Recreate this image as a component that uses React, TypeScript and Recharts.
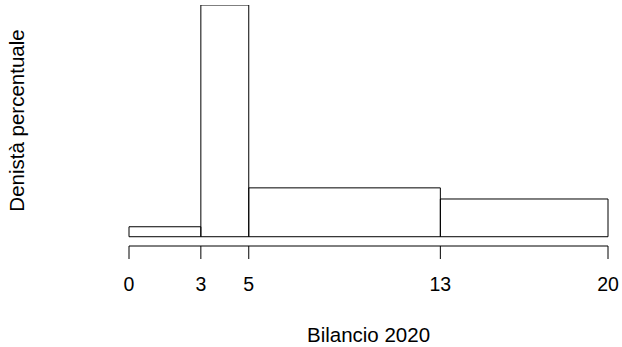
import { ComposedChart, XAxis, YAxis, Line, Label } from 'recharts'

// histogram with unequal class widths (density in % per unit)
const breaks = [0, 3, 5, 13, 20]
const densities = [0.87, 20.2, 4.26, 3.29]
const tickValues = [0, 3, 5, 13, 20]

// each bin as a closed outline: lo,0 -> lo,d -> hi,d -> hi,0 -> lo,0
const binOutlines = densities.map((d, i) => {
  const lo = breaks[i]
  const hi = breaks[i + 1]
  return [
    { x: lo, y: 0 },
    { x: lo, y: d },
    { x: hi, y: d },
    { x: hi, y: 0 },
    { x: lo, y: 0 },
  ]
})

const yMax = Math.max(...densities)
const font = '"Liberation Sans", Arial, Helvetica, sans-serif'

const YTitle = (props: any) => {
  const vb = props.viewBox || { x: 0, y: 0, height: 0 }
  const cx = vb.x + 24
  const cy = vb.y + vb.height / 2 - 5
  return (
    <text
      x={cx}
      y={cy}
      transform={`rotate(-90, ${cx}, ${cy})`}
      textAnchor="middle"
      fill="#000"
      fontSize={20.5}
      fontFamily={font}
    >
      Denistà percentuale
    </text>
  )
}

export default function App() {
  return (
    <div style={{ position: 'absolute', left: 0, top: 0, background: '#fff', fontFamily: font }}>
      <ComposedChart width={622} height={347} margin={{ top: 5, right: 14, left: 0, bottom: 0 }}>
        <XAxis
          dataKey="x"
          type="number"
          domain={[0, 20]}
          ticks={tickValues}
          interval={0}
          allowDuplicatedCategory
          height={101}
          tickSize={13}
          tickMargin={18}
          stroke="#000"
          axisLine={{ stroke: '#000', strokeWidth: 1 }}
          tickLine={{ stroke: '#000', strokeWidth: 1 }}
          tick={{ fill: '#000', fontSize: 19.5, fontFamily: font }}
          label={{
            value: 'Bilancio 2020',
            position: 'insideBottom',
            offset: 5,
            fill: '#000',
            fontSize: 20.5,
            fontFamily: font,
          }}
        />
        <YAxis
          dataKey="y"
          type="number"
          domain={[-0.04 * yMax, yMax]}
          allowDataOverflow
          width={129}
          tick={false}
          axisLine={false}
          tickLine={false}
        >
          <Label content={YTitle} />
        </YAxis>
        {binOutlines.map((pts, i) => (
          <Line
            key={i}
            data={pts}
            dataKey="y"
            type="linear"
            stroke="#000"
            strokeWidth={1}
            dot={false}
            activeDot={false}
            isAnimationActive={false}
          />
        ))}
      </ComposedChart>
    </div>
  )
}
